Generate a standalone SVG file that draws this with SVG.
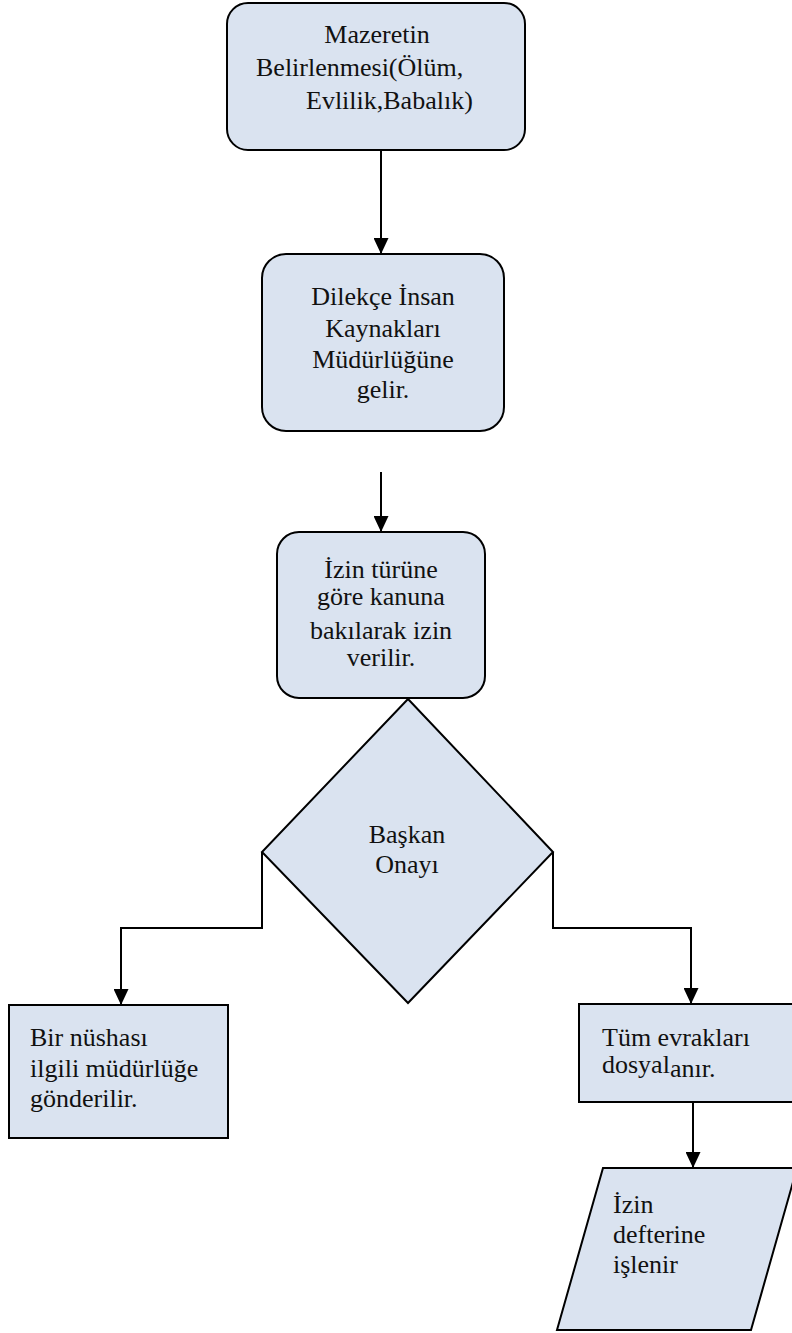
<svg xmlns="http://www.w3.org/2000/svg" width="792" height="1333" viewBox="0 0 792 1333">
<defs>
<style>
.n{fill:#dae3f0;stroke:#000;stroke-width:2}
.t{font-family:"Liberation Serif","Times New Roman",serif;font-size:26px;fill:#111}
.c{text-anchor:middle}
.e{fill:none;stroke:#000;stroke-width:2}
</style>
<marker id="a" viewBox="0 0 16 15" refX="16" refY="7.5" markerWidth="16" markerHeight="15" markerUnits="userSpaceOnUse" orient="auto"><path d="M0,0 L16,7.5 L0,15 Z" fill="#000"/></marker>
</defs>
<g id="edges">
<path class="e" d="M381,150 V254" marker-end="url(#a)"/>
<path class="e" d="M381,472 V532" marker-end="url(#a)"/>
<path class="e" d="M262,852 V928 H121 V1005" marker-end="url(#a)"/>
<path class="e" d="M553,852 V928 H691 V1004" marker-end="url(#a)"/>
<path class="e" d="M693,1102 V1168" marker-end="url(#a)"/>
</g>
<g id="n1">
<rect class="n" x="227" y="3" width="298" height="147" rx="21"/>
<text class="t c" x="377" y="43">Mazeretin</text>
<text class="t" x="256" y="76">Belirlenmesi(Ölüm,</text>
<text class="t" x="306" y="109">Evlilik,Babalık)</text>
</g>
<g id="n2">
<rect class="n" x="262" y="254" width="242" height="177" rx="24"/>
<text class="t c" x="383" y="305">Dilekçe İnsan</text>
<text class="t c" x="383" y="337">Kaynakları</text>
<text class="t c" x="383" y="368">Müdürlüğüne</text>
<text class="t c" x="383" y="398">gelir.</text>
</g>
<g id="n3">
<rect class="n" x="277" y="532" width="208" height="166" rx="22"/>
<text class="t c" x="381" y="578">İzin türüne</text>
<text class="t c" x="381" y="605">göre kanuna</text>
<text class="t c" x="381" y="639">bakılarak izin</text>
<text class="t c" x="381" y="666">verilir.</text>
</g>
<g id="n4">
<polygon class="n" points="408,699 553,852 408,1003 262,852"/>
<text class="t c" x="407" y="843">Başkan</text>
<text class="t c" x="407" y="873">Onayı</text>
</g>
<g id="n5">
<rect class="n" x="9" y="1005" width="219" height="133"/>
<text class="t" x="30" y="1046">Bir nüshası</text>
<text class="t" x="30" y="1077">ilgili müdürlüğe</text>
<text class="t" x="30" y="1107">gönderilir.</text>
</g>
<g id="n6">
<rect class="n" x="579" y="1004" width="220" height="98"/>
<text class="t" x="602" y="1046">Tüm evrakları</text>
<text class="t" x="602" y="1073">dosyal<tspan dy="4">anır.</tspan></text>
</g>
<g id="n7">
<polygon class="n" points="603,1168 797,1168 751,1330 557,1330"/>
<text class="t" x="613" y="1213">İzin</text>
<text class="t" x="613" y="1243">defterine</text>
<text class="t" x="613" y="1273">işlenir</text>
</g>
</svg>
